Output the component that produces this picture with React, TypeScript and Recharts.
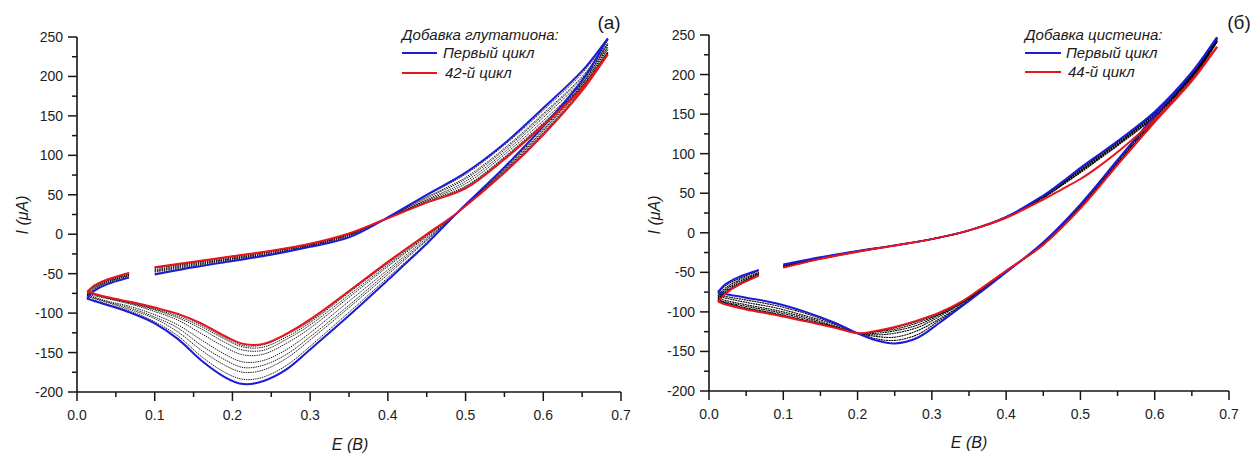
import React from 'react';
import { LineChart, Line, XAxis, YAxis } from 'recharts';

// ---------- Panel (а): glutathione ----------
// Potential grid (V) for each part of a scan: anodic sweep, cathodic sweep, return to the start
const glutUpE = [0.1, 0.15, 0.2, 0.25, 0.3, 0.35, 0.394, 0.45, 0.5, 0.55, 0.6, 0.65, 0.683];
const glutDownE = [0.683, 0.65, 0.6, 0.55, 0.489, 0.45, 0.4, 0.35, 0.3, 0.27, 0.24, 0.214, 0.19, 0.16, 0.13, 0.1, 0.07, 0.04, 0.013];
const glutTurnE = [0.013, 0.022, 0.04, 0.067];

// Current (µA) along the scan path: anodic, cathodic, return
const glutFirst = [
  -51, -42, -34, -26, -16, -4, 18, 50, 78, 115, 160, 207, 248,
  248, 195, 137, 85, 27, -12, -58, -103, -146, -171, -186, -190, -181, -160, -133, -113, -100, -90, -82,
  -82, -72, -63, -55,
];
const glutLast = [
  -42, -35, -28, -21, -12, 1, 18, 40, 58, 95, 138, 185, 228,
  228, 182, 126, 78, 27, 0, -35, -72, -108, -126, -139, -139, -129, -113, -101, -93, -86, -80, -73,
  -73, -65, -57, -49,
];
const glutMiddle = [
  [
    -50, -41, -33, -25, -15, -3, 18, 49, 76, 113, 157, 204, 246,
    246, 193, 136, 84, 27, -11, -55, -99, -142, -166, -181, -184, -175, -155, -129, -111, -98, -89, -81,
    -81, -71, -62, -54,
  ],
  [
    -48, -40, -32, -25, -15, -2, 18, 47, 72, 109, 153, 200, 242,
    242, 191, 134, 83, 27, -8, -51, -93, -134, -157, -172, -175, -166, -147, -124, -107, -96, -87, -79,
    -79, -70, -61, -53,
  ],
  [
    -47, -39, -31, -24, -14, -1, 18, 46, 70, 107, 151, 198, 240,
    240, 190, 132, 82, 27, -7, -48, -90, -130, -152, -166, -169, -159, -141, -119, -105, -94, -86, -78,
    -78, -69, -60, -52,
  ],
  [
    -46, -38, -31, -23, -14, -1, 18, 44, 67, 104, 148, 195, 237,
    237, 188, 131, 81, 27, -5, -45, -85, -125, -146, -160, -162, -152, -134, -115, -102, -92, -85, -77,
    -77, -68, -60, -52,
  ],
  [
    -45, -37, -30, -22, -13, 0, 18, 43, 64, 101, 144, 191, 234,
    234, 186, 129, 80, 27, -3, -41, -80, -119, -138, -152, -153, -143, -126, -109, -98, -89, -82, -76,
    -76, -67, -59, -51,
  ],
  [
    -43, -36, -29, -22, -13, 0, 18, 42, 61, 98, 141, 188, 231,
    231, 184, 128, 79, 27, -2, -39, -77, -115, -133, -147, -147, -137, -120, -106, -96, -88, -81, -74,
    -74, -66, -58, -50,
  ],
  [
    -43, -36, -28, -21, -12, 0, 18, 41, 60, 97, 140, 187, 230,
    230, 183, 127, 79, 27, -1, -37, -74, -112, -130, -143, -143, -133, -117, -104, -95, -87, -81, -74,
    -74, -66, -58, -50,
  ],
  [
    -42, -35, -28, -21, -12, 1, 18, 40, 59, 96, 139, 186, 229,
    229, 182, 126, 78, 27, 0, -36, -73, -110, -127, -140, -141, -131, -115, -102, -94, -87, -80, -73,
    -73, -65, -57, -49,
  ],
];

// ---------- Panel (б): cysteine ----------
const cysUpE = [0.1, 0.15, 0.2, 0.25, 0.3, 0.35, 0.4, 0.45, 0.475, 0.5, 0.525, 0.55, 0.6, 0.65, 0.684];
const cysDownE = [0.684, 0.65, 0.6, 0.55, 0.5, 0.45, 0.4, 0.37, 0.34, 0.31, 0.28, 0.25, 0.225, 0.2, 0.17, 0.13, 0.09, 0.05, 0.02, 0.012];
const cysTurnE = [0.012, 0.022, 0.04, 0.067];

const cysFirst = [
  -40, -31, -23, -16, -8, 3, 20, 47, 64, 82, 99, 116, 153, 203, 247,
  247, 202, 148, 92, 36, -12, -50, -72, -93, -114, -133, -140, -136, -127, -114, -100, -89, -82, -77, -75,
  -75, -65, -56, -47,
];
const cysLast = [
  -44, -33, -24, -16, -8, 3, 19, 42, 55, 68, 84, 102, 143, 193, 235,
  235, 192, 140, 86, 31, -15, -48, -68, -87, -101, -111, -119, -124, -127, -120, -112, -104, -97, -90, -87,
  -87, -77, -66, -54,
];
const cysMiddle = [
  [
    -41, -31, -23, -16, -8, 3, 20, 47, 63, 81, 98, 115, 152, 202, 246,
    246, 200, 146, 91, 35, -13, -50, -71, -92, -111, -129, -136, -134, -127, -115, -102, -92, -85, -80, -77,
    -77, -67, -58, -48,
  ],
  [
    -42, -32, -23, -16, -8, 3, 20, 46, 62, 80, 97, 114, 151, 201, 245,
    245, 198, 145, 90, 34, -13, -49, -70, -91, -109, -124, -132, -131, -127, -116, -105, -95, -88, -82, -80,
    -80, -70, -60, -50,
  ],
  [
    -42, -32, -24, -16, -8, 3, 20, 46, 62, 79, 96, 113, 150, 200, 244,
    244, 196, 143, 88, 33, -14, -49, -70, -89, -106, -120, -127, -129, -127, -118, -107, -98, -91, -85, -82,
    -82, -72, -62, -51,
  ],
  [
    -43, -33, -24, -16, -8, 3, 20, 45, 61, 78, 95, 112, 149, 199, 243,
    243, 195, 142, 88, 32, -14, -49, -69, -89, -104, -117, -124, -127, -127, -119, -109, -100, -93, -87, -84,
    -84, -74, -64, -52,
  ],
  [
    -43, -33, -24, -16, -8, 3, 19, 45, 60, 77, 94, 111, 148, 198, 242,
    242, 193, 141, 87, 32, -15, -48, -68, -88, -103, -114, -122, -125, -127, -119, -111, -102, -95, -88, -86,
    -86, -76, -65, -53,
  ],
  [
    -44, -33, -24, -16, -8, 3, 19, 44, 60, 76, 93, 110, 147, 197, 241,
    241, 192, 140, 86, 31, -15, -48, -68, -87, -102, -112, -120, -125, -127, -120, -111, -103, -96, -89, -86,
    -86, -76, -66, -54,
  ],
];

// ---------- Axes ----------
const xTicks = [0, 0.05, 0.1, 0.15, 0.2, 0.25, 0.3, 0.35, 0.4, 0.45, 0.5, 0.55, 0.6, 0.65, 0.7];
const yTicks = [-200, -175, -150, -125, -100, -75, -50, -25, 0, 25, 50, 75, 100, 125, 150, 175, 200, 225, 250];

const BLUE = '#1c1cd8';
const RED = '#e8151c';
const INK = '#151515';
const FONT = '"Liberation Sans", Arial, Helvetica, sans-serif';

type Pt = { e: number; i: number };

// Cut one scan (values along the path) into its anodic, cathodic and return parts
function splitScan(upE: number[], downE: number[], turnE: number[], values: number[]): Pt[][] {
  const parts: Pt[][] = [];
  let k = 0;
  for (const grid of [upE, downE, turnE]) {
    parts.push(grid.map((e) => ({ e, i: values[k++] })));
  }
  return parts;
}

// Smooth parametric curve (chord-length Hermite) for paths that are not functions of x
function smoothCurve(context: any) {
  let pts: [number, number][] = [];
  return {
    areaStart() {},
    areaEnd() {},
    lineStart() {
      pts = [];
    },
    point(x: number, y: number) {
      pts.push([+x, +y]);
    },
    lineEnd() {
      const n = pts.length;
      if (!n) return;
      context.moveTo(pts[0][0], pts[0][1]);
      if (n === 1) return;
      const tan = pts.map((p, k) => {
        const a = pts[Math.max(k - 1, 0)];
        const b = pts[Math.min(k + 1, n - 1)];
        const d1 = Math.hypot(p[0] - a[0], p[1] - a[1]);
        const d2 = Math.hypot(b[0] - p[0], b[1] - p[1]);
        const s = d1 + d2 || 1;
        return [(b[0] - a[0]) / s, (b[1] - a[1]) / s];
      });
      for (let k = 0; k < n - 1; k++) {
        const p = pts[k];
        const q = pts[k + 1];
        const L = Math.hypot(q[0] - p[0], q[1] - p[1]) / 3;
        context.bezierCurveTo(
          p[0] + tan[k][0] * L,
          p[1] + tan[k][1] * L,
          q[0] - tan[k + 1][0] * L,
          q[1] - tan[k + 1][1] * L,
          q[0],
          q[1]
        );
      }
    },
  };
}

const XTick = (props: any) => {
  const { x, y, payload } = props;
  const v = payload.value as number;
  const major = Math.round(v * 100) % 10 === 0;
  return (
    <g>
      <line x1={x} x2={x} y1={y} y2={y + (major ? 9 : 5)} stroke={INK} strokeWidth={1.5} />
      {major && (
        <text x={x} y={y + 28} textAnchor="middle" fontSize={14} fill="#222" fontFamily={FONT}>
          {v.toFixed(1)}
        </text>
      )}
    </g>
  );
};

const YTick = (props: any) => {
  const { x, y, payload } = props;
  const v = payload.value as number;
  const major = v % 50 === 0;
  return (
    <g>
      <line x1={x - (major ? 9 : 5)} x2={x} y1={y} y2={y} stroke={INK} strokeWidth={1.5} />
      {major && (
        <text x={x - 14} y={y + 5} textAnchor="end" fontSize={14} fill="#222" fontFamily={FONT}>
          {v}
        </text>
      )}
    </g>
  );
};

type PanelProps = {
  left: number;
  width: number;
  axisW: number;
  top: number;
  right: number;
  xAxisH: number;
  upE: number[];
  downE: number[];
  turnE: number[];
  first: number[];
  last: number[];
  middle: number[][];
  inkWidth: number;
  inkDash: string;
  id: string;
};

function CvPanel(p: PanelProps) {
  const lines: React.ReactNode[] = [];
  p.middle.forEach((cyc, ci) => {
    splitScan(p.upE, p.downE, p.turnE, cyc).forEach((seg, si) => {
      lines.push(
        <Line
          key={`${p.id}-m${ci}-${si}`}
          data={seg}
          dataKey="i"
          type={smoothCurve as any}
          stroke="#000"
          strokeWidth={p.inkWidth}
          strokeDasharray={p.inkDash}
          dot={false}
          activeDot={false}
          isAnimationActive={false}
        />
      );
    });
  });
  const mains: [number[], string][] = [
    [p.first, BLUE],
    [p.last, RED],
  ];
  mains.forEach(([vals, color], ci) => {
    splitScan(p.upE, p.downE, p.turnE, vals).forEach((seg, si) => {
      lines.push(
        <Line
          key={`${p.id}-c${ci}-${si}`}
          data={seg}
          dataKey="i"
          type={smoothCurve as any}
          stroke={color}
          strokeWidth={2}
          dot={false}
          activeDot={false}
          isAnimationActive={false}
        />
      );
    });
  });

  return (
    <div style={{ position: 'absolute', left: p.left, top: 0 }}>
      <LineChart width={p.width} height={455} margin={{ top: p.top, right: p.right, bottom: 0, left: 0 }}>
        <XAxis
          type="number"
          dataKey="e"
          domain={[0, 0.7]}
          ticks={xTicks}
          interval={0}
          allowDataOverflow
          height={p.xAxisH}
          tickSize={0}
          tickMargin={0}
          tickLine={false}
          tick={<XTick />}
          axisLine={{ stroke: INK, strokeWidth: 1.6 }}
        />
        <YAxis
          type="number"
          dataKey="i"
          domain={[-200, 250]}
          ticks={yTicks}
          interval={0}
          allowDataOverflow
          width={p.axisW}
          tickSize={0}
          tickMargin={0}
          tickLine={false}
          tick={<YTick />}
          axisLine={{ stroke: INK, strokeWidth: 1.6 }}
        />
        {lines}
      </LineChart>
    </div>
  );
}

const textStyle = { fontFamily: FONT, fill: '#1a1a1a' } as const;

export default function App() {
  return (
    <div style={{ position: 'absolute', left: 0, top: 0, width: 1256, height: 455, background: '#fff' }}>
      <CvPanel
        id="glut"
        left={0}
        width={640}
        axisW={77}
        top={37}
        right={19}
        xAxisH={63}
        upE={glutUpE}
        downE={glutDownE}
        turnE={glutTurnE}
        first={glutFirst}
        last={glutLast}
        middle={glutMiddle}
        inkWidth={0.9}
        inkDash="1.4 0.9"
      />
      <CvPanel
        id="cys"
        left={640}
        width={616}
        axisW={69}
        top={35}
        right={27}
        xAxisH={64}
        upE={cysUpE}
        downE={cysDownE}
        turnE={cysTurnE}
        first={cysFirst}
        last={cysLast}
        middle={cysMiddle}
        inkWidth={1.1}
        inkDash="2 0.6"
      />
      <svg width={1256} height={455} style={{ position: 'absolute', left: 0, top: 0, pointerEvents: 'none' }}>
        {/* axis titles */}
        <text x={22} y={215} transform="rotate(-90 22 215)" textAnchor="middle" dominantBaseline="central" fontSize={16} fontStyle="italic" {...textStyle}>
          I (μA)
        </text>
        <text x={654} y={215} transform="rotate(-90 654 215)" textAnchor="middle" dominantBaseline="central" fontSize={16} fontStyle="italic" {...textStyle}>
          I (μA)
        </text>
        <text x={350} y={450} textAnchor="middle" fontSize={16} fontStyle="italic" {...textStyle}>
          E (B)
        </text>
        <text x={969} y={448} textAnchor="middle" fontSize={16} fontStyle="italic" {...textStyle}>
          E (B)
        </text>

        {/* panel letters */}
        <text x={609} y={29} textAnchor="middle" fontSize={19} {...textStyle}>
          (а)
        </text>
        <text x={1239} y={29} textAnchor="middle" fontSize={19} {...textStyle}>
          (б)
        </text>

        {/* legend, panel (а) */}
        <text x={402} y={40} fontSize={15} fontStyle="italic" {...textStyle}>
          Добавка глутатиона:
        </text>
        <line x1={402} x2={437} y1={53} y2={53} stroke={BLUE} strokeWidth={2} />
        <text x={443} y={58} fontSize={15} fontStyle="italic" {...textStyle}>
          Первый цикл
        </text>
        <line x1={402} x2={437} y1={73} y2={73} stroke={RED} strokeWidth={2} />
        <text x={445} y={78} fontSize={15} fontStyle="italic" {...textStyle}>
          42-й цикл
        </text>

        {/* legend, panel (б) */}
        <text x={1025} y={40} fontSize={15} fontStyle="italic" {...textStyle}>
          Добавка цистеина:
        </text>
        <line x1={1025} x2={1061} y1={53} y2={53} stroke={BLUE} strokeWidth={2} />
        <text x={1066} y={58} fontSize={15} fontStyle="italic" {...textStyle}>
          Первый цикл
        </text>
        <line x1={1025} x2={1061} y1={72} y2={72} stroke={RED} strokeWidth={2} />
        <text x={1068} y={77} fontSize={15} fontStyle="italic" {...textStyle}>
          44-й цикл
        </text>
      </svg>
    </div>
  );
}
